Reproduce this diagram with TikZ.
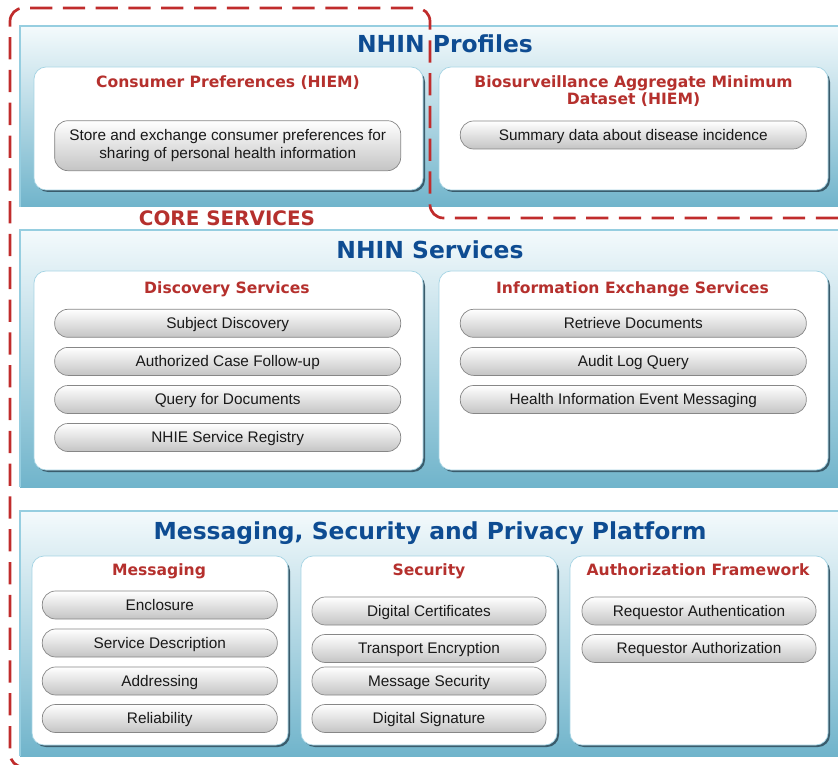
\documentclass[tikz,border=0pt]{standalone}
\usepackage{fontspec}
\setmainfont{Liberation Sans}
\newfontfamily\headfont{DejaVu Sans}
\usepackage{tikz}
\usetikzlibrary{positioning}

\definecolor{nhinblue}{RGB}{14,76,146}
\definecolor{nhinred}{RGB}{181,48,45}
\definecolor{coredash}{RGB}{192,44,44}
\definecolor{bandtop}{RGB}{244,250,252}
\definecolor{bandbot}{RGB}{112,180,203}
\definecolor{bandedge}{RGB}{150,206,224}
\definecolor{cardshade}{RGB}{58,92,108}
\definecolor{cardedge}{RGB}{165,212,228}
\definecolor{pillbot}{RGB}{196,196,196}
\definecolor{pilledge}{RGB}{135,135,135}

\tikzset{
  bandfill/.style={top color=bandtop, bottom color=bandbot, draw=none},
  cardshadow/.style={fill=cardshade, rounded corners=0.36cm},
  cardbox/.style={fill=white, draw=cardedge, line width=0.6pt, rounded corners=0.36cm},
  pillbase/.style={draw=pilledge, line width=0.6pt, top color=white, bottom color=pillbot,
    rounded corners=0.4cm, minimum height=0.84cm, inner sep=0pt, text=black!90,
    font=\fontsize{13.1}{15.4}\selectfont},
  itempill/.style={pillbase, text height=9.3pt, text depth=0pt},
  bandtitle/.style={anchor=base, text=nhinblue, font=\headfont\bfseries\fontsize{20}{24}\selectfont},
  cardtitle/.style={anchor=base, text=nhinred, font=\headfont\bfseries\fontsize{13.3}{15}\selectfont},
}

\begin{document}
\begin{tikzpicture}[x=0.03cm,y=-0.03cm]
    \useasboundingbox (0,0) rectangle (838,765);
    \clip (0,0) rectangle (838,765);

    % NHIN Profiles band
    \shade [bandfill] (20,26) rectangle (845,207);
    \draw [bandedge,line width=1pt] (845,26) -- (20,26) -- (20,207);
    \fill [cardshadow] (36,70) rectangle (425,192);
    \draw [cardbox] (34,67) rectangle (423,190);
    \fill [cardshadow] (441,70) rectangle (830,192);
    \draw [cardbox] (439,67) rectangle (828,190);

    \node [bandtitle] (proftitle) at (445,53) {NHIN Profiles};
    \node [cardtitle] (constitle) at (228,88) {Consumer Preferences (HIEM)};
    \node [pillbase,minimum width=10.38cm,minimum height=1.5cm,align=center] (conspill) at (227.7,145.7)
        {Store and exchange consumer preferences for\\sharing of personal health information};
    \node [cardtitle] (biotitle) at (633.5,88) {Biosurveillance Aggregate Minimum};
    \node [cardtitle] (biotitleb) at (633.5,105) {Dataset (HIEM)};
    \node [itempill,minimum width=10.38cm] (summarypill) at (633.3,135) {Summary data about disease incidence};

    \node [anchor=base,text=nhinred,font=\headfont\bfseries\fontsize{17}{20}\selectfont] (coretitle)
        at (227,226) {CORE SERVICES};

    % NHIN Services band
    \shade [bandfill] (20,230) rectangle (845,487);
    \draw [bandedge,line width=1pt] (845,230) -- (20,230) -- (20,487);
    \fill [cardshadow] (36,274) rectangle (425,472);
    \draw [cardbox] (34,271) rectangle (423,470);
    \fill [cardshadow] (441,274) rectangle (830,472);
    \draw [cardbox] (439,271) rectangle (828,470);

    \node [bandtitle] (servtitle) at (430,259) {NHIN Services};
    \node [cardtitle] (disctitle) at (227,294) {Discovery Services};
    \node [itempill,minimum width=10.38cm] (subjdisc) at (227.7,323.3) {Subject Discovery};
    \node [itempill,minimum width=10.38cm] (authcase) at (227.7,361.4) {Authorized Case Follow-up};
    \node [itempill,minimum width=10.38cm] (querydocs) at (227.7,399.5) {Query for Documents};
    \node [itempill,minimum width=10.38cm] (registry) at (227.7,437.5) {NHIE Service Registry};
    \node [cardtitle] (infotitle) at (632.5,294) {Information Exchange Services};
    \node [itempill,minimum width=10.38cm] (retrieve) at (633.3,323.3) {Retrieve Documents};
    \node [itempill,minimum width=10.38cm] (auditlog) at (633.3,361.4) {Audit Log Query};
    \node [itempill,minimum width=10.38cm] (eventmsg) at (633.3,399.5) {Health Information Event Messaging};

    % Messaging, Security and Privacy Platform band
    \shade [bandfill] (20,511) rectangle (845,756);
    \draw [bandedge,line width=1pt] (845,511) -- (20,511) -- (20,756);
    \fill [cardshadow] (34,559) rectangle (290,747);
    \draw [cardbox] (32,556) rectangle (288,745);
    \fill [cardshadow] (303,559) rectangle (559,747);
    \draw [cardbox] (301,556) rectangle (557,745);
    \fill [cardshadow] (572,559) rectangle (830,747);
    \draw [cardbox] (570,556) rectangle (828,745);

    \node [bandtitle] (plattitle) at (430,539) {Messaging, Security and Privacy Platform};
    \node [cardtitle] (msgtitle) at (159,575) {Messaging};
    \node [itempill,minimum width=7.05cm] (enclosure) at (159.8,605) {Enclosure};
    \node [itempill,minimum width=7.05cm] (servdesc) at (159.8,643) {Service Description};
    \node [itempill,minimum width=7.05cm] (addressing) at (159.8,681) {Addressing};
    \node [itempill,minimum width=7.05cm] (reliability) at (159.8,718.5) {Reliability};
    \node [cardtitle] (sectitle) at (429,575) {Security};
    \node [itempill,minimum width=7.02cm] (digcert) at (429,611) {Digital Certificates};
    \node [itempill,minimum width=7.02cm] (transport) at (429,648.5) {Transport Encryption};
    \node [itempill,minimum width=7.02cm] (msgsec) at (429,681) {Message Security};
    \node [itempill,minimum width=7.02cm] (digsig) at (429,718.5) {Digital Signature};
    \node [cardtitle] (authtitle) at (698,575) {Authorization Framework};
    \node [itempill,minimum width=7.02cm] (reqauthn) at (699,611) {Requestor Authentication};
    \node [itempill,minimum width=7.02cm] (reqauthz) at (699,648.5) {Requestor Authorization};

    % core services outline
    \draw [coredash,line width=2.3pt,dash pattern=on 19pt off 9pt,rounded corners=0.4cm]
        (850,767) -- (10,767) -- (10,8) -- (430,8) -- (430,218) -- (850,218);
\end{tikzpicture}
\end{document}
